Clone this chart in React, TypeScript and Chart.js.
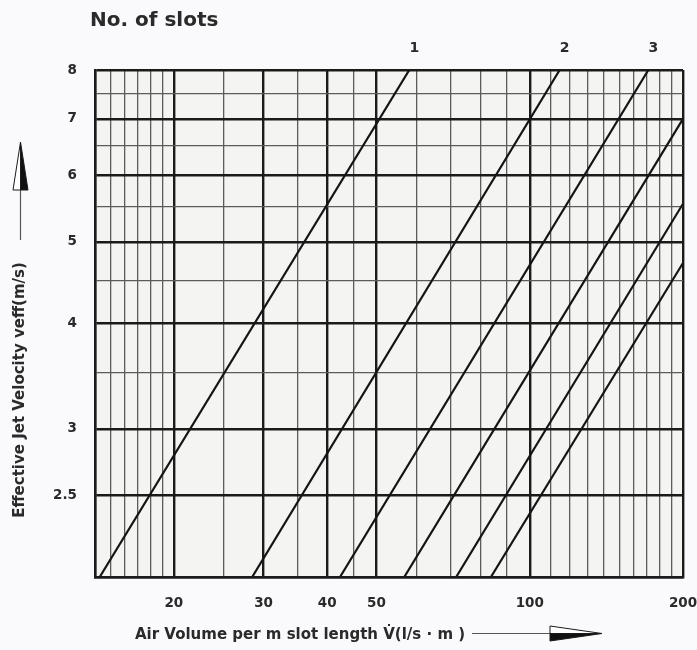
import React, { useEffect, useRef } from 'react';
import { Chart, registerables } from 'chart.js';

Chart.register(...registerables);

const W = 697;
const H = 650;

const chartTitle = 'No. of slots';
const xTitle = 'Air Volume per m slot length V\u0307(l/s \u00b7 m )';
const yTitle = 'Effective Jet Velocity veff(m/s)';

// Number of slots written above the first three lines
const slotLabels = ['1', '2', '3'];

// Each line: start and end point as (air volume, jet velocity)
const line1 = [{ x: 14.3, y: 2 }, { x: 58, y: 8 }];
const line2 = [{ x: 28.5, y: 2 }, { x: 114.5, y: 8 }];
const line3 = [{ x: 42.4, y: 2 }, { x: 171, y: 8 }];
const line4 = [{ x: 56.7, y: 2 }, { x: 200, y: 7.0 }];
const line5 = [{ x: 71.7, y: 2 }, { x: 200, y: 5.55 }];
const line6 = [{ x: 83.9, y: 2 }, { x: 200, y: 4.72 }];

// Grid of the log-log paper
const xGrid = [14, 15, 16, 17, 18, 19, 20, 25, 30, 35, 40, 45, 50, 60, 70, 80, 90, 100,
  110, 120, 130, 140, 150, 160, 170, 180, 190, 200];
const xLabels = [20, 30, 40, 50, 100, 200];
const xMajor = [14, 20, 30, 40, 50, 100, 200];

const yGrid = [2, 2.5, 3, 3.5, 4, 4.5, 5, 5.5, 6, 6.5, 7, 7.5, 8];
const yLabels = [2.5, 3, 4, 5, 6, 7, 8];
const yMajor = [2, 2.5, 3, 4, 5, 6, 7, 8];

const INK = '#1b1b1b';
const MINOR = '#5c5c5c';
const TEXT = '#2a2a2a';

function drawArrowHead(ctx: CanvasRenderingContext2D, tip: number[], b1: number[], mid: number[], b2: number[]) {
  // open half
  ctx.beginPath();
  ctx.moveTo(tip[0], tip[1]);
  ctx.lineTo(b1[0], b1[1]);
  ctx.lineTo(mid[0], mid[1]);
  ctx.closePath();
  ctx.fillStyle = '#ffffff';
  ctx.fill();
  ctx.strokeStyle = INK;
  ctx.lineWidth = 1;
  ctx.stroke();
  // filled half
  ctx.beginPath();
  ctx.moveTo(tip[0], tip[1]);
  ctx.lineTo(mid[0], mid[1]);
  ctx.lineTo(b2[0], b2[1]);
  ctx.closePath();
  ctx.fillStyle = '#111111';
  ctx.fill();
  ctx.stroke();
}

const decor = {
  id: 'decor',
  beforeDraw(chart: any) {
    const { ctx, chartArea: a } = chart;
    ctx.save();
    ctx.fillStyle = '#faf9fc';
    ctx.fillRect(0, 0, chart.width, chart.height);
    ctx.fillStyle = '#f4f4f2';
    ctx.fillRect(a.left, a.top, a.right - a.left, a.bottom - a.top);
    ctx.restore();
  },
  afterDraw(chart: any) {
    const { ctx, chartArea: a, scales } = chart;
    const xs = scales.x;
    ctx.save();
    ctx.fillStyle = TEXT;

    ctx.font = 'bold 20px "DejaVu Sans"';
    ctx.textAlign = 'left';
    ctx.textBaseline = 'middle';
    ctx.fillText(chartTitle, 90, 21);

    // slot numbers above the upper ends of the lines
    ctx.font = 'bold 14px "DejaVu Sans"';
    ctx.textAlign = 'center';
    slotLabels.forEach((lbl, i) => {
      const pts = chart.data.datasets[i].data as { x: number; y: number }[];
      const end = pts[pts.length - 1];
      ctx.fillText(lbl, xs.getPixelForValue(end.x) + 5, a.top - 22);
    });

    // x axis title with arrow
    ctx.font = 'bold 15px "DejaVu Sans"';
    ctx.textAlign = 'left';
    ctx.fillStyle = TEXT;
    ctx.fillText(xTitle, 135, 635);
    ctx.strokeStyle = '#555';
    ctx.lineWidth = 1.2;
    ctx.beginPath();
    ctx.moveTo(472, 633.5);
    ctx.lineTo(552, 633.5);
    ctx.stroke();
    drawArrowHead(ctx, [602, 633.5], [550, 626], [550, 633.5], [550, 641]);

    // y axis arrow
    ctx.strokeStyle = '#555';
    ctx.lineWidth = 1.2;
    ctx.beginPath();
    ctx.moveTo(20.5, 240);
    ctx.lineTo(20.5, 190);
    ctx.stroke();
    drawArrowHead(ctx, [20.5, 142], [13, 190], [20.5, 190], [28, 190]);

    // y axis title
    ctx.translate(20, 390);
    ctx.rotate(-Math.PI / 2);
    ctx.font = 'bold 15px "DejaVu Sans"';
    ctx.textAlign = 'center';
    ctx.textBaseline = 'middle';
    ctx.fillStyle = TEXT;
    ctx.fillText(yTitle, 0, 0);
    ctx.restore();
  },
};

const tickFont = { family: '"DejaVu Sans"', size: 13.5, weight: 'bold' as const };

export default function App() {
  const ref = useRef<HTMLCanvasElement>(null);

  useEffect(() => {
    const canvas = ref.current;
    if (!canvas) return;
    const lineStyle = { borderColor: '#141414', borderWidth: 2.2, pointRadius: 0, fill: false, tension: 0 };
    const chart = new Chart(canvas, {
      type: 'line',
      data: {
        datasets: [
          { label: '1', data: line1, ...lineStyle },
          { label: '2', data: line2, ...lineStyle },
          { label: '3', data: line3, ...lineStyle },
          { label: '4', data: line4, ...lineStyle },
          { label: '5', data: line5, ...lineStyle },
          { label: '6', data: line6, ...lineStyle },
        ],
      },
      options: {
        responsive: false,
        animation: false,
        devicePixelRatio: 1,
        layout: { padding: { top: 70, right: 14, bottom: 0, left: 0 } },
        plugins: { legend: { display: false }, tooltip: { enabled: false }, title: { display: false } },
        scales: {
          x: {
            type: 'logarithmic',
            min: 14,
            max: 200,
            afterBuildTicks: (s: any) => {
              s.ticks = xGrid.map((v) => ({ value: v }));
            },
            afterFit: (s: any) => {
              s.height = 73;
              s.paddingLeft = 0;
              s.paddingRight = 0;
            },
            ticks: {
              autoSkip: false,
              maxRotation: 0,
              minRotation: 0,
              padding: 18,
              color: TEXT,
              font: tickFont,
              callback: (v: any) => (xLabels.includes(Number(v)) ? String(v) : ''),
            },
            grid: {
              drawTicks: false,
              color: (c: any) => (xMajor.includes(c.tick?.value) ? INK : MINOR),
              lineWidth: (c: any) => (xMajor.includes(c.tick?.value) ? 2.4 : 1.3),
            },
            border: { display: true, color: INK, width: 2.4 },
          },
          y: {
            type: 'logarithmic',
            min: 2,
            max: 8,
            afterBuildTicks: (s: any) => {
              s.ticks = yGrid.map((v) => ({ value: v }));
            },
            afterFit: (s: any) => {
              s.width = 95;
              s.paddingTop = 0;
              s.paddingBottom = 0;
            },
            ticks: {
              autoSkip: false,
              padding: 18,
              color: TEXT,
              font: tickFont,
              callback: (v: any) => (yLabels.includes(Number(v)) ? String(v) : ''),
            },
            grid: {
              drawTicks: false,
              color: (c: any) => (yMajor.includes(c.tick?.value) ? INK : MINOR),
              lineWidth: (c: any) => (yMajor.includes(c.tick?.value) ? 2.4 : 1.3),
            },
            border: { display: true, color: INK, width: 2.4 },
          },
        },
      },
      plugins: [decor],
    } as any);
    return () => chart.destroy();
  }, []);

  return (
    <div style={{ position: 'absolute', left: 0, top: 0, width: W, height: H }}>
      <canvas ref={ref} width={W} height={H} style={{ display: 'block', width: W, height: H }} />
    </div>
  );
}
